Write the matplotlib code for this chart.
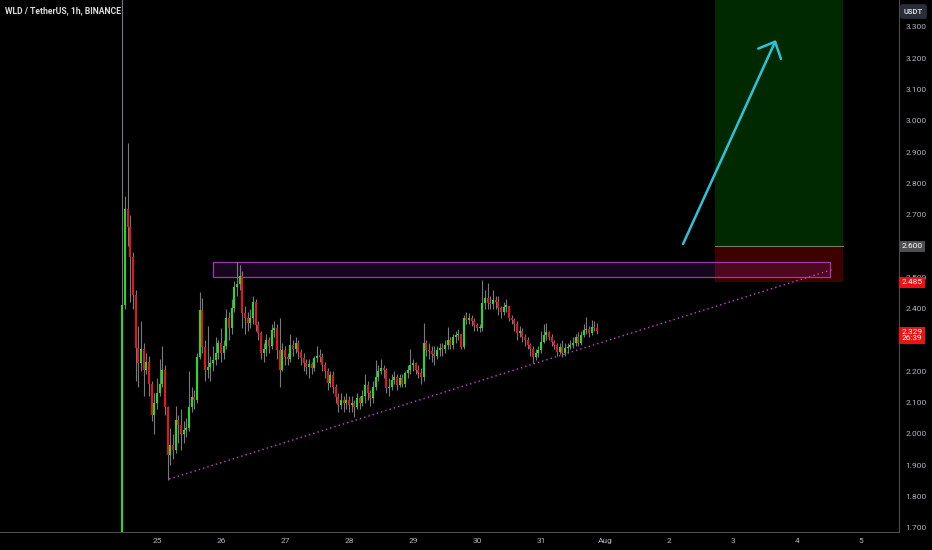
import numpy as np
import matplotlib.pyplot as plt
from matplotlib.patches import Rectangle

plt.rcParams['font.family'] = ['Roboto', 'DejaVu Sans']

# hourly candles of WLD/USDT, first candle at 24 Jul 11:00
first_hour = 11
closes = [
    2.412, 2.72, 2.662, 2.566, 2.444, 2.276, 2.226, 2.27, 2.205, 2.23,
    2.16, 2.06, 2.10, 2.13, 2.16, 2.205, 2.087, 1.933, 1.965, 1.95,
    2.045, 2.03, 2.00, 2.013, 2.02, 2.087, 2.119, 2.11, 2.247, 2.396,
    2.279, 2.205, 2.215, 2.226, 2.237, 2.26, 2.29, 2.26, 2.28, 2.37,
    2.34, 2.402, 2.471, 2.48, 2.505, 2.386, 2.37, 2.354, 2.37, 2.423,
    2.348, 2.322, 2.258, 2.27, 2.30, 2.28, 2.332, 2.338, 2.268, 2.205,
    2.268, 2.247, 2.24, 2.284, 2.27, 2.29, 2.263, 2.242, 2.226, 2.215,
    2.225, 2.21, 2.242, 2.25, 2.247, 2.221, 2.20, 2.162, 2.189, 2.151,
    2.119, 2.093, 2.109, 2.10, 2.11, 2.093, 2.10, 2.085, 2.115, 2.10,
    2.12, 2.157, 2.13, 2.114, 2.151, 2.183, 2.20, 2.21, 2.205, 2.146,
    2.15, 2.173, 2.183, 2.157, 2.178, 2.16, 2.194, 2.205, 2.221, 2.226,
    2.205, 2.195, 2.183, 2.29, 2.268, 2.265, 2.257, 2.25, 2.268, 2.275,
    2.272, 2.284, 2.30, 2.284, 2.311, 2.316, 2.32, 2.279, 2.37, 2.365,
    2.37, 2.36, 2.349, 2.338, 2.34, 2.418, 2.434, 2.418, 2.415, 2.428,
    2.42, 2.402, 2.391, 2.407, 2.41, 2.37, 2.364, 2.35, 2.322, 2.33,
    2.311, 2.30, 2.284, 2.27, 2.247, 2.258, 2.268, 2.295, 2.316, 2.325,
    2.311, 2.295, 2.284, 2.263, 2.279, 2.258, 2.274, 2.279, 2.285, 2.29,
    2.311, 2.29, 2.316, 2.332, 2.335, 2.322, 2.343, 2.338, 2.329,
]
highs = [
    3.45, 2.76, 2.929, 2.70, 2.58, 2.46, 2.346, 2.362, 2.29, 2.26,
    2.25, 2.17, 2.13, 2.18, 2.24, 2.28, 2.22, 2.09, 2.02, 2.00,
    2.09, 2.06, 2.08, 2.04, 2.05, 2.20, 2.15, 2.14, 2.26, 2.455,
    2.434, 2.30, 2.346, 2.25, 2.28, 2.31, 2.30, 2.338, 2.30, 2.40,
    2.39, 2.43, 2.49, 2.55, 2.54, 2.52, 2.41, 2.39, 2.40, 2.44,
    2.43, 2.36, 2.33, 2.29, 2.32, 2.31, 2.35, 2.36, 2.35, 2.37,
    2.29, 2.28, 2.26, 2.32, 2.30, 2.31, 2.30, 2.27, 2.26, 2.24,
    2.24, 2.23, 2.25, 2.28, 2.27, 2.26, 2.23, 2.21, 2.20, 2.20,
    2.16, 2.13, 2.13, 2.12, 2.13, 2.12, 2.12, 2.11, 2.13, 2.12,
    2.14, 2.19, 2.17, 2.14, 2.17, 2.235, 2.22, 2.24, 2.22, 2.21,
    2.18, 2.19, 2.20, 2.19, 2.19, 2.19, 2.20, 2.22, 2.27, 2.24,
    2.23, 2.22, 2.21, 2.354, 2.30, 2.29, 2.28, 2.28, 2.28, 2.29,
    2.29, 2.30, 2.343, 2.31, 2.32, 2.33, 2.335, 2.32, 2.38, 2.39,
    2.385, 2.38, 2.37, 2.355, 2.35, 2.492, 2.46, 2.482, 2.44, 2.46,
    2.44, 2.44, 2.41, 2.42, 2.43, 2.41, 2.38, 2.37, 2.36, 2.345,
    2.34, 2.32, 2.31, 2.29, 2.28, 2.27, 2.28, 2.33, 2.35, 2.355,
    2.33, 2.32, 2.30, 2.29, 2.29, 2.30, 2.29, 2.29, 2.30, 2.31,
    2.32, 2.325, 2.33, 2.35, 2.375, 2.345, 2.365, 2.36, 2.355,
]
lows = [
    1.50, 2.40, 2.60, 2.42, 2.40, 2.17, 2.15, 2.20, 2.12, 2.19,
    2.12, 2.04, 2.00, 2.08, 2.12, 2.15, 2.06, 1.853, 1.90, 1.92,
    1.94, 1.97, 1.95, 1.97, 1.99, 2.01, 2.07, 2.08, 2.10, 2.24,
    2.26, 2.17, 2.18, 2.17, 2.20, 2.22, 2.24, 2.23, 2.24, 2.27,
    2.30, 2.32, 2.39, 2.44, 2.46, 2.34, 2.32, 2.33, 2.34, 2.35,
    2.33, 2.30, 2.24, 2.23, 2.25, 2.26, 2.27, 2.31, 2.24, 2.151,
    2.20, 2.22, 2.22, 2.23, 2.25, 2.26, 2.24, 2.22, 2.20, 2.19,
    2.18, 2.19, 2.20, 2.23, 2.23, 2.20, 2.18, 2.14, 2.15, 2.13,
    2.10, 2.07, 2.08, 2.07, 2.08, 2.07, 2.07, 2.055, 2.08, 2.08,
    2.09, 2.10, 2.11, 2.09, 2.10, 2.14, 2.17, 2.19, 2.18, 2.13,
    2.12, 2.14, 2.16, 2.14, 2.15, 2.15, 2.15, 2.18, 2.19, 2.20,
    2.19, 2.18, 2.16, 2.17, 2.25, 2.24, 2.23, 2.22, 2.24, 2.25,
    2.25, 2.26, 2.27, 2.27, 2.27, 2.29, 2.30, 2.27, 2.27, 2.35,
    2.35, 2.345, 2.33, 2.33, 2.325, 2.33, 2.40, 2.40, 2.40, 2.40,
    2.40, 2.38, 2.37, 2.38, 2.39, 2.36, 2.35, 2.33, 2.30, 2.31,
    2.295, 2.28, 2.27, 2.25, 2.228, 2.235, 2.245, 2.26, 2.29, 2.30,
    2.30, 2.28, 2.27, 2.25, 2.255, 2.245, 2.25, 2.26, 2.27, 2.275,
    2.28, 2.28, 2.285, 2.31, 2.32, 2.31, 2.315, 2.33, 2.32,
]
first_open = 1.50

# axis labels (2.300 and 2.600 sit under the price badges)
price_ticks = [1.7, 1.8, 1.9, 2.0, 2.1, 2.2, 2.3, 2.4, 2.5, 2.6,
               2.7, 2.8, 2.9, 3.0, 3.1, 3.2, 3.3]
hidden_ticks = [2.3, 2.6]
date_pos = [25, 26, 27, 28, 29, 30, 31, 32, 33, 34, 35, 36]
date_labels = ['25', '26', '27', '28', '29', '30', '31', 'Aug', '2', '3', '4', '5']

# drawings (x in July days, y in price)
zone_x = (33.72, 35.72)
entry, stop, target = 2.600, 2.485, 3.40
box_x = (25.875, 35.516)
box_y = (2.50, 2.55)
trend_x = [25.19, 35.58]
trend_y = [1.856, 2.527]
arrow_from = (33.22, 2.607)
arrow_to = (34.67, 3.258)
last_price = 2.329
countdown = '26:39'

fig = plt.figure(figsize=(9.32, 5.5), dpi=100, facecolor='black')
ax = fig.add_axes([0, 18 / 550, 899 / 932, 532 / 550])
ax.set_facecolor('black')

closes = np.array(closes)
opens = np.concatenate([[first_open], closes[:-1]])
highs = np.maximum(np.array(highs), np.maximum(opens, closes))
lows = np.minimum(np.array(lows), np.minimum(opens, closes))
t = 24 + (first_hour + np.arange(len(closes))) / 24.0
up = closes >= opens
col = np.where(up, '#1fe01f', '#e8141a')

ax.vlines(t, lows, highs, color='#77797c', lw=0.8, zorder=3)
body = np.maximum(np.abs(closes - opens), 0.004)
ax.bar(t, body, bottom=np.minimum(opens, closes), width=0.8 / 24,
       color=col, linewidth=0, zorder=4)

# long position zones
ax.add_patch(Rectangle((zone_x[0], entry), zone_x[1] - zone_x[0], target - entry,
                       facecolor='#00a000', alpha=0.26, lw=0, zorder=1))
ax.add_patch(Rectangle((zone_x[0], stop), zone_x[1] - zone_x[0], entry - stop,
                       facecolor='#ff0000', alpha=0.25, lw=0, zorder=1))
ax.plot(zone_x, [entry, entry], color='#6f7d6f', lw=0.8, zorder=2)

# resistance box
ax.add_patch(Rectangle((box_x[0], box_y[0]), box_x[1] - box_x[0], box_y[1] - box_y[0],
                       facecolor=(0.62, 0.2, 0.8, 0.15), edgecolor=(0.68, 0.25, 0.75, 0.9),
                       lw=0.9, zorder=2))

# rising trendline
ax.plot(trend_x, trend_y, color='#d23ed6', lw=1.0, ls=(0, (1, 2.2)), zorder=5)

ax.annotate('', xy=arrow_to, xytext=arrow_from,
            arrowprops=dict(arrowstyle='->,head_length=0.95,head_width=0.9',
                            color='#2cc3da', lw=1.8, mutation_scale=10,
                            shrinkA=0, shrinkB=0), zorder=6)

ax.set_xlim(22.547, 36.594)
ax.set_ylim(1.687, 3.386)

for s in ['top', 'left']:
    ax.spines[s].set_visible(False)
for s in ['right', 'bottom']:
    ax.spines[s].set_color('#4d4d4d')
    ax.spines[s].set_linewidth(0.8)

ax.yaxis.tick_right()
ax.set_yticks(price_ticks)
ax.set_yticklabels(['' if p in hidden_ticks else '%.3f' % p for p in price_ticks])
ax.set_xticks(date_pos)
ax.set_xticklabels(date_labels)
ax.tick_params(axis='y', length=0, pad=4.5, labelsize=6.0, labelcolor='#b2b5be')
ax.tick_params(axis='x', length=0, pad=4, labelsize=6.0, labelcolor='#b2b5be')

# price scale badges
yt = ax.get_yaxis_transform()
ax.text(1.0025, entry, '%.3f' % entry, transform=yt, ha='left', va='center',
        fontsize=6.0, color='white', clip_on=False, zorder=10,
        bbox=dict(boxstyle='square,pad=0.3', fc='#4f4f52', ec='none'))
ax.text(1.0025, stop, '%.3f' % stop, transform=yt, ha='left', va='center',
        fontsize=6.0, color='white', clip_on=False, zorder=10,
        bbox=dict(boxstyle='square,pad=0.3', fc='#ee1111', ec='none'))
ax.text(1.0025, last_price - 0.014, '%.3f\n%s' % (last_price, countdown), transform=yt,
        ha='left', va='center', fontsize=6.0, color='white', linespacing=1.05,
        clip_on=False, zorder=10,
        bbox=dict(boxstyle='square,pad=0.3', fc='#ee1111', ec='none'))

fig.text(913.5 / 932, 1 - 11.5 / 550, 'USDT', ha='center', va='center', fontsize=5.5,
         color='#d1d4dc', fontweight='bold',
         bbox=dict(boxstyle='round,pad=0.5,rounding_size=0.3', fc='#2a2e39', ec='none'))
fig.text(5 / 932, 1 - 11 / 550, 'WLD / TetherUS, 1h, BINANCE', ha='left', va='center',
         fontsize=6.2, color='#dcdcdc', fontweight='bold')

fig.savefig('out.png', dpi=100, facecolor='black')
